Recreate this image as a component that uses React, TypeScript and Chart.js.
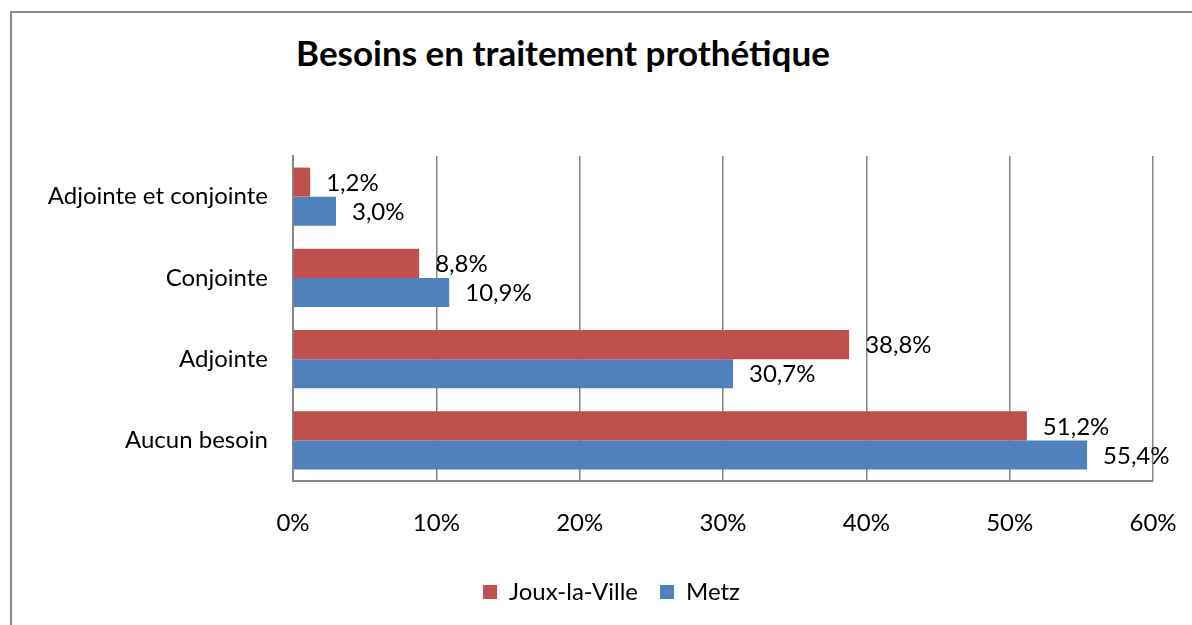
import React, { useEffect, useRef } from "react";
import { Chart, registerables } from "chart.js";

Chart.register(...registerables);

const categories = ["Adjointe et conjointe", "Conjointe", "Adjointe", "Aucun besoin"];
const jouxValues = [1.2, 8.8, 38.8, 51.2];
const metzValues = [3.0, 10.9, 30.7, 55.4];
const seriesNames = ["Joux-la-Ville", "Metz"];
const xTicks = [0, 10, 20, 30, 40, 50, 60];
const titleText = "Besoins en traitement prothétique";

const FONT = "Lato, 'Open Sans', sans-serif";
const FS = 24;

const dataLabelPlugin = {
  id: "dataLabels",
  afterDatasetsDraw(chart: any) {
    const ctx = chart.ctx;
    ctx.save();
    ctx.font = `${FS}px ${FONT}`;
    ctx.fillStyle = "#000";
    ctx.textAlign = "left";
    ctx.textBaseline = "middle";
    chart.data.datasets.forEach((ds: any, di: number) => {
      const meta = chart.getDatasetMeta(di);
      meta.data.forEach((bar: any, i: number) => {
        const v = ds.data[i] as number;
        const txt = v.toFixed(1).replace(".", ",") + "%";
        ctx.fillText(txt, bar.x + 16, bar.y + 1);
      });
    });
    ctx.restore();
  },
};

const legendShiftPlugin = {
  id: "legendShift",
  afterLayout(chart: any) {
    if (chart.legend) {
      chart.legend.left += 35;
      chart.legend.right += 35;
    }
  },
};

export default function App() {
  const ref = useRef<HTMLCanvasElement>(null);
  useEffect(() => {
    if (!ref.current) return;
    const chart = new Chart(ref.current, {
      type: "bar",
      data: {
        labels: categories,
        datasets: [
          {
            label: seriesNames[0],
            data: jouxValues,
            backgroundColor: "#C0504D",
            borderWidth: 0,
            barPercentage: 1.0,
            categoryPercentage: 0.715,
          },
          {
            label: seriesNames[1],
            data: metzValues,
            backgroundColor: "#4F81BD",
            borderWidth: 0,
            barPercentage: 1.0,
            categoryPercentage: 0.715,
          },
        ],
      },
      options: {
        indexAxis: "y",
        animation: false,
        responsive: false,
        maintainAspectRatio: false,
        layout: { padding: { left: 0, right: 39, top: 156, bottom: 11 } },
        scales: {
          x: {
            min: 0,
            max: 60,
            afterBuildTicks(scale: any) {
              scale.ticks = xTicks.map((v) => ({ value: v }));
            },
            afterFit(scale: any) {
              scale.height = 77;
            },
            ticks: {
              callback: (v: any) => v + "%",
              color: "#000",
              font: { family: FONT, size: FS },
              padding: 0,
              maxRotation: 0,
            },
            grid: {
              color: "#868686",
              lineWidth: 1.5,
              drawTicks: true,
              tickLength: 28,
              tickColor: "rgba(0,0,0,0)",
            },
            border: { display: true, color: "#868686", width: 2 },
          },
          y: {
            afterFit(scale: any) {
              scale.width = 293;
            },
            ticks: {
              color: "#000",
              font: { family: FONT, size: FS },
              padding: 25,
            },
            grid: { display: false, drawTicks: false },
            border: { display: true, color: "#868686", width: 2 },
          },
        },
        plugins: {
          legend: {
            position: "bottom",
            labels: {
              color: "#000",
              font: { family: FONT, size: FS },
              boxWidth: 14,
              boxHeight: 14,
              padding: 22,
            },
          },
          title: { display: false },
          tooltip: { enabled: false },
        },
      },
      plugins: [dataLabelPlugin, legendShiftPlugin],
    });
    return () => chart.destroy();
  }, []);

  return (
    <div
      style={{
        position: "fixed",
        left: 0,
        top: 0,
        width: 1192,
        height: 625,
        overflow: "hidden",
        background: "#fff",
      }}
    >
      <div
        style={{
          position: "absolute",
          left: 10,
          top: 11,
          width: 1300,
          height: 700,
          borderLeft: "2px solid #898989",
          borderTop: "2px solid #898989",
        }}
      />
      <div
        style={{
          position: "absolute",
          left: 0,
          top: 31,
          width: 1126,
          textAlign: "center",
          fontFamily: FONT,
          fontWeight: "bold",
          fontSize: 35,
          lineHeight: "42px",
          color: "#000",
        }}
      >
        {titleText}
      </div>
      <canvas
        ref={ref}
        width={1192}
        height={625}
        style={{ position: "absolute", left: 0, top: 0, width: 1192, height: 625 }}
      />
    </div>
  );
}
